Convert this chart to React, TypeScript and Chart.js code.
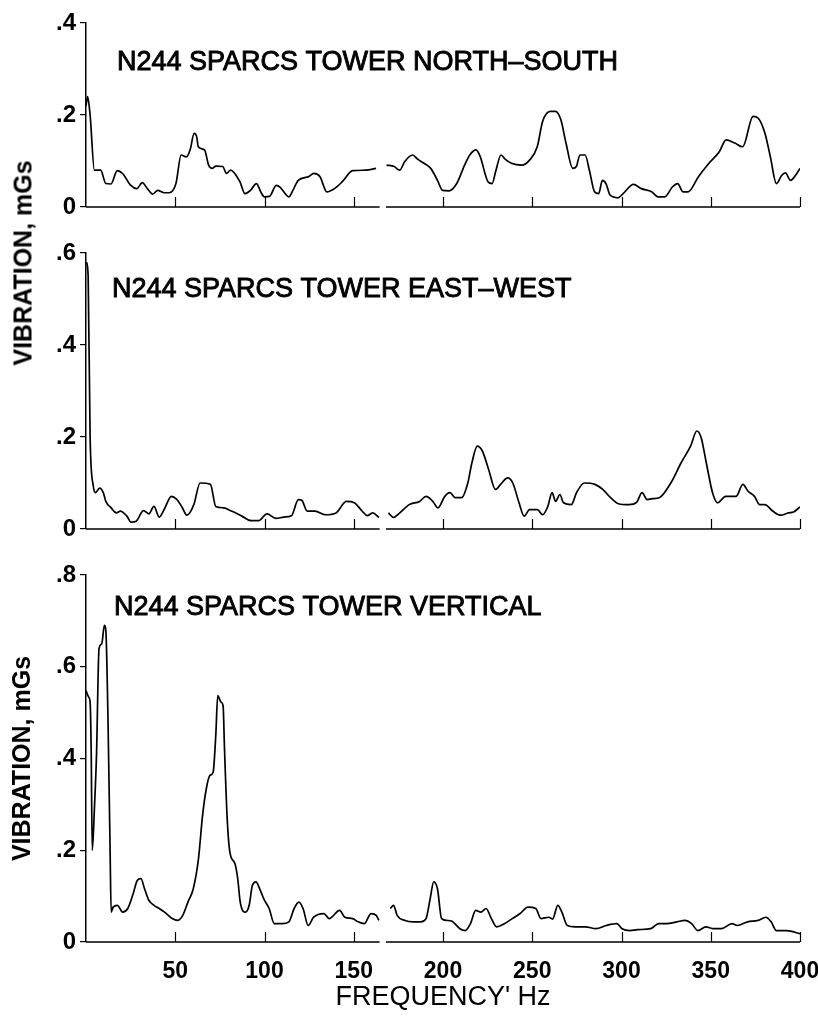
import React, { useEffect, useRef } from "react";
import { Chart, registerables } from "chart.js";

Chart.register(...registerables);

const FONT = '"Liberation Sans", Arial, Helvetica, sans-serif';

// Shared x axis (Hz)
const xTickValues = [50, 100, 150, 200, 250, 300, 350, 400];
const xTickLabels = ["50", "100", "150", "200", "250", "300", "350", "400"];
const axisGap = [164.5, 168];

// Panel 1: North-South
const nsTitle = "N244 SPARCS TOWER NORTH\u2013SOUTH";
const nsFreq = [0, 0.9, 2.3, 4.7, 8.2, 11.1, 14.0, 17.5, 20.4, 25.1,
  28.5, 31.5, 34.4, 37.3, 40.2, 43.7, 46.6, 50.4, 53.3, 56.2,
  58.3, 60.6, 62.0, 62.9, 66.4, 68.7, 70.8, 72.8, 76.6, 78.7,
  81.0, 86.2, 89.1, 92.1, 95.5, 97.9, 99.9, 102.8, 106.6, 108.7,
  111.6, 113.6, 115.9, 118.9, 124.7, 127.6, 131.1, 134.9, 139.2, 143.6,
  149.4, 156.7, 162.5, 166, 168.4, 172.7, 175.7, 178.6, 182.9, 185.8,
  189.3, 193.1, 196.9, 199.8, 203.3, 207.7, 212.1, 215.0, 218.5, 220.8,
  225.2, 227.5, 229.5, 232.5, 234.8, 238.3, 244.1, 248.5, 252.8, 255.8,
  260.1, 263.0, 266.0, 268.9, 272.7, 274.7, 276.7, 279.6, 282.0, 284.9,
  287.2, 289.3, 291.3, 293.6, 298.0, 300.9, 306.7, 311.1, 316.9, 320.4,
  324.2, 328.6, 331.5, 334.4, 337.3, 343.1, 349.0, 354.8, 358.6, 363.5,
  367.9, 373.7, 376.6, 380.4, 383.4, 386.8, 389.8, 391.8, 394.7, 397.0,
  400];
const nsVal = [0.22, 0.24, 0.2, 0.08, 0.08, 0.051, 0.05, 0.079, 0.073, 0.047,
  0.04, 0.053, 0.04, 0.028, 0.036, 0.031, 0.031, 0.051, 0.113, 0.109,
  0.124, 0.16, 0.153, 0.131, 0.124, 0.091, 0.084, 0.089, 0.088, 0.073,
  0.08, 0.055, 0.029, 0.036, 0.051, 0.033, 0.022, 0.023, 0.047, 0.043,
  0.029, 0.022, 0.036, 0.058, 0.066, 0.073, 0.066, 0.033, 0.04, 0.055,
  0.079, 0.08, 0.084, null, 0.091, 0.088, 0.08, 0.099, 0.113, 0.104,
  0.095, 0.084, 0.058, 0.036, 0.035, 0.051, 0.091, 0.113, 0.124, 0.11,
  0.055, 0.051, 0.077, 0.113, 0.104, 0.095, 0.091, 0.102, 0.131, 0.186,
  0.208, 0.208, 0.19, 0.139, 0.084, 0.088, 0.113, 0.113, 0.08, 0.033,
  0.029, 0.058, 0.051, 0.026, 0.02, 0.029, 0.049, 0.04, 0.033, 0.022,
  0.022, 0.044, 0.051, 0.033, 0.033, 0.066, 0.095, 0.12, 0.146, 0.139,
  0.131, 0.197, 0.193, 0.16, 0.109, 0.051, 0.069, 0.074, 0.058, 0.066,
  0.084];

// Panel 2: East-West
const ewTitle = "N244 SPARCS TOWER EAST\u2013WEST";
const ewFreq = [0.3, 1.2, 2.3, 4.1, 5.3, 7.6, 9.7, 11.1, 14.1, 17.0,
  19.3, 22.9, 25.2, 28.1, 32.2, 35.2, 38.1, 41.0, 44.0, 47.8,
  50.7, 53.6, 56.5, 60.4, 63.9, 69.7, 72.7, 77.1, 81.5, 87.3,
  92.6, 96.7, 101.4, 106.4, 110.8, 115.1, 119.0, 121.0, 123.9, 128.3,
  134.2, 140.1, 145.9, 150.3, 154.7, 157.6, 160.6, 164.1, 166, 169.4,
  172.3, 175.2, 181.1, 186.9, 190.5, 194.3, 197.2, 201.0, 203.9, 206.9,
  210.4, 213.9, 216.2, 219.2, 222.1, 225.6, 229.4, 232.3, 236.2, 239.1,
  242.6, 245.5, 248.5, 252.9, 255.8, 258.7, 261.1, 263.1, 265.5, 267.5,
  271.9, 274.8, 279.2, 285.1, 289.5, 293.9, 298.3, 304.1, 308.5, 311.5,
  314.4, 317.3, 321.1, 327.6, 333.4, 338.7, 342.2, 344.6, 347.5, 351.0,
  353.9, 358.3, 364.2, 368.0, 370.9, 374.5, 377.4, 380.3, 384.7, 389.1,
  393.5, 396.4, 400];
const ewVal = [0.58, 0.55, 0.2, 0.093, 0.079, 0.089, 0.079, 0.06, 0.046, 0.035,
  0.039, 0.028, 0.015, 0.017, 0.04, 0.033, 0.049, 0.026, 0.044, 0.071,
  0.065, 0.049, 0.03, 0.053, 0.1, 0.097, 0.049, 0.046, 0.039, 0.028,
  0.018, 0.018, 0.033, 0.023, 0.026, 0.029, 0.064, 0.062, 0.039, 0.039,
  0.031, 0.035, 0.06, 0.057, 0.039, 0.029, 0.035, 0.025, null, 0.035,
  0.025, 0.033, 0.053, 0.06, 0.071, 0.06, 0.046, 0.071, 0.079, 0.068,
  0.068, 0.1, 0.144, 0.18, 0.169, 0.129, 0.086, 0.097, 0.111, 0.1,
  0.057, 0.028, 0.042, 0.042, 0.031, 0.049, 0.079, 0.06, 0.075, 0.057,
  0.053, 0.079, 0.1, 0.097, 0.086, 0.068, 0.055, 0.053, 0.058, 0.079,
  0.064, 0.066, 0.068, 0.1, 0.144, 0.18, 0.213, 0.199, 0.144, 0.079,
  0.057, 0.071, 0.071, 0.097, 0.082, 0.071, 0.053, 0.053, 0.039, 0.03,
  0.035, 0.037, 0.048];

// Panel 3: Vertical
const vTitle = "N244 SPARCS TOWER VERTICAL";
const vFreq = [0, 1.5, 2.3, 2.9, 3.5, 4.7, 5.9, 7.3, 8.8, 10.3,
  11.1, 12.3, 13.5, 14.1, 15.2, 17.6, 20.5, 23.4, 26.4, 28.7,
  30.8, 32.8, 35.2, 38.1, 41.0, 44.0, 48.3, 51.3, 54.2, 57.1,
  60.1, 63.0, 65.3, 67.4, 69.4, 71.2, 72.7, 73.8, 75.6, 76.8,
  77.6, 79.1, 80.6, 83.5, 85.0, 86.4, 89.4, 91.4, 93.2, 95.2,
  97.3, 99.6, 102.6, 105.5, 109.9, 113.7, 116.6, 119.3, 121.6, 124.5,
  127.5, 133.3, 136.2, 142.1, 145.0, 149.4, 152.4, 155.9, 159.7, 162.6,
  164.1, 167, 170.5, 172.3, 174.3, 178.7, 183.1, 187.5, 190.5, 192.8,
  194.8, 196.9, 199.2, 202.2, 205.1, 209.5, 212.4, 215.4, 218.3, 221.2,
  224.1, 227.1, 230.0, 234.4, 238.8, 243.2, 247.6, 252.0, 254.9, 259.3,
  261.4, 264.3, 266.6, 269.6, 274.0, 279.8, 285.7, 291.5, 297.4, 300.3,
  304.7, 309.1, 316.4, 320.8, 325.2, 331.1, 335.5, 339.3, 342.8, 347.2,
  351.6, 356.0, 361.9, 364.8, 370.6, 376.5, 380.9, 383.8, 386.8, 392.6,
  400];
const vVal = [0.548, 0.534, 0.523, 0.42, 0.2, 0.29, 0.41, 0.64, 0.65, 0.69,
  0.68, 0.49, 0.2, 0.065, 0.076, 0.08, 0.065, 0.073, 0.105, 0.134,
  0.138, 0.116, 0.091, 0.08, 0.073, 0.065, 0.051, 0.047, 0.058, 0.087,
  0.116, 0.181, 0.276, 0.334, 0.363, 0.37, 0.45, 0.537, 0.523, 0.515,
  0.42, 0.269, 0.196, 0.17, 0.138, 0.087, 0.065, 0.08, 0.123, 0.131,
  0.116, 0.094, 0.073, 0.04, 0.04, 0.044, 0.073, 0.087, 0.073, 0.036,
  0.054, 0.062, 0.051, 0.069, 0.054, 0.051, 0.044, 0.04, 0.062, 0.058,
  0.047, null, 0.073, 0.08, 0.058, 0.047, 0.044, 0.044, 0.051, 0.094,
  0.131, 0.116, 0.051, 0.047, 0.045, 0.029, 0.025, 0.04, 0.069, 0.065,
  0.073, 0.051, 0.033, 0.04, 0.051, 0.062, 0.076, 0.073, 0.051, 0.054,
  0.05, 0.08, 0.065, 0.036, 0.033, 0.033, 0.029, 0.036, 0.04, 0.029,
  0.025, 0.027, 0.029, 0.04, 0.04, 0.044, 0.047, 0.04, 0.025, 0.033,
  0.029, 0.029, 0.04, 0.036, 0.044, 0.047, 0.054, 0.044, 0.025, 0.025,
  0.018];

const yTitle = "VIBRATION, mGs";
const xTitle = "FREQUENCY' Hz";

const fmtY = (v: number) => {
  const n = Math.round(v * 10) / 10;
  return n === 0 ? "0" : n.toFixed(1).replace(/^0/, "");
};

const panelPlugin = {
  id: "panelDecor",
  afterDraw(chart: any) {
    const opts = chart.options.plugins.panelDecor;
    if (!opts) return;
    const { ctx, chartArea } = chart;
    const xs = chart.scales.x;
    const y0 = chartArea.bottom;
    ctx.save();
    ctx.strokeStyle = "#000";
    ctx.lineWidth = 1.6;
    ctx.beginPath();
    ctx.moveTo(xs.getPixelForValue(0), y0);
    ctx.lineTo(xs.getPixelForValue(axisGap[0]), y0);
    ctx.moveTo(xs.getPixelForValue(axisGap[1]), y0);
    ctx.lineTo(xs.getPixelForValue(400), y0);
    ctx.stroke();
    ctx.lineWidth = 1.2;
    ctx.beginPath();
    xTickValues.forEach((v) => {
      const px = Math.round(xs.getPixelForValue(v)) + 0.5;
      ctx.moveTo(px, y0);
      ctx.lineTo(px, y0 - 10);
    });
    ctx.stroke();
    ctx.fillStyle = "#000";
    ctx.font = `27px ${FONT}`;
    ctx.textBaseline = "middle";
    ctx.textAlign = "left";
    const tx = chartArea.left + opts.dx;
    const ty = chartArea.top + opts.dy;
    ctx.fillText(opts.title, tx, ty);
    ctx.lineWidth = 0.9;
    ctx.strokeText(opts.title, tx, ty);
    ctx.restore();
  },
};

function makeConfig(freq: number[], vals: (number | null)[], yMax: number, title: string, dx: number, dy: number, padTop: number, xHeight: number, isBottom: boolean) {
  const data = freq.map((f, i) => ({ x: f, y: vals[i] }));
  return {
    type: "line" as const,
    data: {
      datasets: [
        {
          data,
          borderColor: "#000",
          borderWidth: 1.7,
          pointRadius: 0,
          fill: false,
          spanGaps: false,
          cubicInterpolationMode: "monotone" as const,
        },
      ],
    },
    plugins: [panelPlugin],
    options: {
      responsive: false,
      animation: false as const,
      events: [],
      layout: { padding: { top: padTop, right: 18, left: 0, bottom: 0 } },
      plugins: {
        legend: { display: false },
        tooltip: { enabled: false },
        panelDecor: { title, dx, dy },
      },
      scales: {
        x: {
          type: "linear" as const,
          min: 0,
          max: 400,
          grid: { display: false },
          border: { display: false },
          afterBuildTicks: (s: any) => {
            s.ticks = xTickValues.map((v) => ({ value: v }));
          },
          afterFit: (s: any) => {
            s.height = xHeight;
            s.paddingLeft = 0;
            s.paddingRight = 0;
          },
          ticks: {
            display: isBottom,
            autoSkip: false,
            maxRotation: 0,
            padding: 8,
            color: "#000",
            font: { family: FONT, size: 23, weight: "bold" as const },
            callback: (v: any) => {
              const i = xTickValues.indexOf(Number(v));
              return i >= 0 ? xTickLabels[i] : "";
            },
          },
          title: {
            display: isBottom,
            text: xTitle,
            color: "#000",
            font: { family: FONT, size: 27 },
            padding: { top: 0, bottom: 5 },
          },
        },
        y: {
          type: "linear" as const,
          min: 0,
          max: yMax,
          afterFit: (s: any) => {
            s.width = 86;
            s.paddingTop = 0;
            s.paddingBottom = 0;
          },
          grid: { drawOnChartArea: false, drawTicks: true, tickLength: 6, color: "#000", lineWidth: 1.2 },
          border: { display: true, color: "#000", width: 1.5 },
          ticks: {
            stepSize: 0.2,
            padding: 4,
            color: "#000",
            font: { family: FONT, size: 24, weight: "bold" as const },
            callback: (v: any) => fmtY(Number(v)),
          },
          title: {
            display: isBottom,
            text: yTitle,
            color: "#000",
            font: { family: FONT, size: 25, weight: "bold" as const },
            padding: { top: 8, bottom: 0 },
          },
        },
      },
    },
  };
}

function Panel({ top, height, cfg }: { top: number; height: number; cfg: any }) {
  const ref = useRef<HTMLCanvasElement | null>(null);
  useEffect(() => {
    if (!ref.current) return;
    const chart = new Chart(ref.current, cfg);
    return () => chart.destroy();
  }, []);
  return (
    <canvas
      ref={ref}
      width={818}
      height={height}
      style={{ position: "absolute", left: 0, top, width: 818, height }}
    />
  );
}

export default function App() {
  const p1 = makeConfig(nsFreq, nsVal, 0.4, nsTitle, 31, 40, 23, 25, false);
  const p2 = makeConfig(ewFreq, ewVal, 0.6, ewTitle, 26, 37, 21, 23, false);
  const p3 = makeConfig(vFreq, vVal, 0.8, vTitle, 28, 33, 23, 77, true);
  return (
    <div style={{ position: "absolute", left: 0, top: 0, width: 818, height: 1019, background: "#fff", overflow: "hidden" }}>
      <Panel top={0} height={232} cfg={p1} />
      <Panel top={232} height={320} cfg={p2} />
      <Panel top={552} height={467} cfg={p3} />
      <div
        style={{
          position: "absolute",
          left: 23,
          top: 263,
          transform: "translate(-50%, -50%) rotate(-90deg)",
          whiteSpace: "nowrap",
          fontFamily: FONT,
          fontSize: 25,
          fontWeight: "bold",
          lineHeight: 1,
          color: "#000",
        }}
      >
        {yTitle}
      </div>
    </div>
  );
}
